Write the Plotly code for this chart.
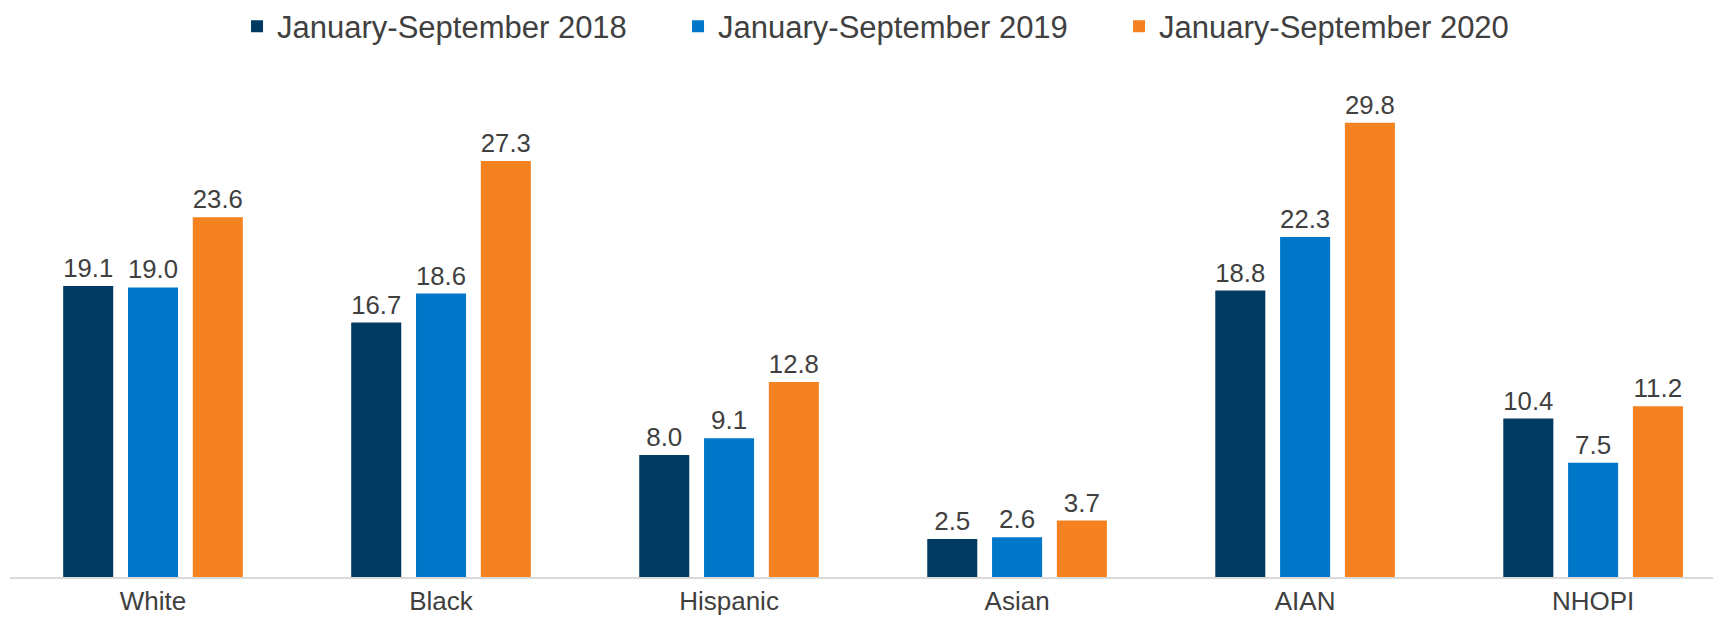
import plotly.graph_objects as go

categories = ["White", "Black", "Hispanic", "Asian", "AIAN", "NHOPI"]
series_names = ["January-September 2018", "January-September 2019", "January-September 2020"]
values_2018 = [19.1, 16.7, 8.0, 2.5, 18.8, 10.4]
values_2019 = [19.0, 18.6, 9.1, 2.6, 22.3, 7.5]
values_2020 = [23.6, 27.3, 12.8, 3.7, 29.8, 11.2]
colors = ["#003A63", "#0077C8", "#F58220"]

fig = go.Figure()
for name, vals, col in zip(series_names, [values_2018, values_2019, values_2020], colors):
    fig.add_trace(go.Bar(
        x=categories, y=vals, name=name,
        marker=dict(color=col, line=dict(width=0)),
        text=[f"{v:.1f}" for v in vals],
        textposition="outside",
        textfont=dict(size=26, color="#404040", family="Liberation Sans, Arial"),
        cliponaxis=False,
    ))

fig.update_layout(
    width=1713, height=615,
    barmode="group", bargap=0.325, bargroupgap=0.228,
    margin=dict(l=2, r=0, t=52, b=46, pad=0, autoexpand=False),
    plot_bgcolor="white", paper_bgcolor="white",
    font=dict(family="Liberation Sans, Arial", color="#404040"),
    legend=dict(
        orientation="h", xref="container", yref="paper",
        x=0.1337, xanchor="left", y=1.117, yanchor="top",
        font=dict(size=31, color="#404040"),
        entrywidth=396, entrywidthmode="pixels",
        traceorder="normal",
    ),
    xaxis=dict(
        range=[-0.4965, 5.444], showline=True, linecolor="#d9d9d9", linewidth=2,
        tickfont=dict(size=26, color="#404040"), showgrid=False, ticks="",
    ),
    yaxis=dict(range=[0, 33.92], visible=False, showgrid=False),
    showlegend=True,
)
fig.write_html("out.html")
